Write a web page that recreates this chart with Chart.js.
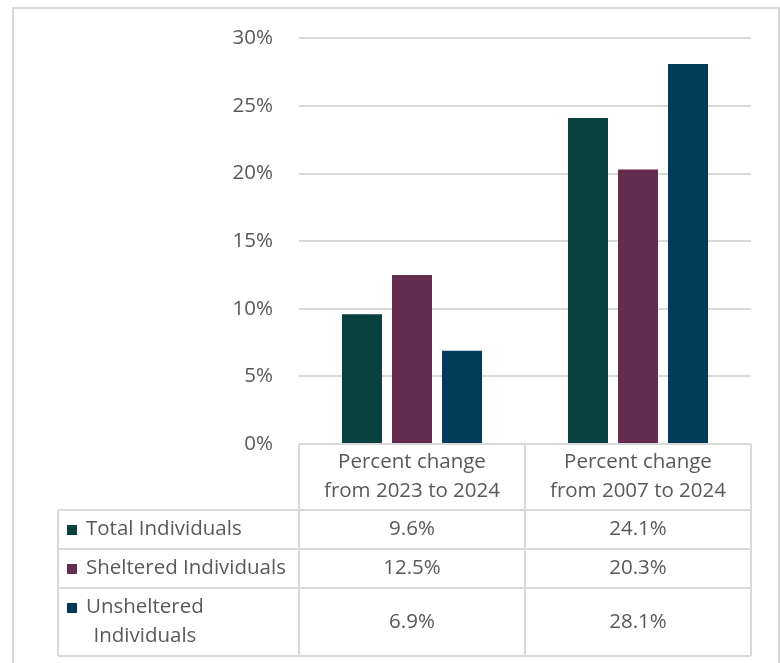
<!DOCTYPE html>
<html lang="en">
<head>
  <meta charset="UTF-8">
  <title>Percent change in homelessness</title>
  <script src="https://cdn.jsdelivr.net/npm/chart.js"></script>
  <style>
    body {
      margin: 0;
      padding: 0;
      background: #fff;
      overflow: hidden;
    }
    .frame {
      position: absolute;
      left: 12px;
      top: 7px;
      width: 768px;
      height: 700px;
      box-sizing: border-box;
      border: 2px solid #d9d9d9;
    }
    .chart-container {
      position: absolute;
      left: 0;
      top: 0;
      width: 780px;
      height: 663px;
    }
  </style>
</head>
<body>
  <div class="frame"></div>
  <div class="chart-container">
    <canvas id="changeChart"></canvas>
  </div>

  <script>
    // data
    const categories = [
      ['Percent change', 'from 2023 to 2024'],
      ['Percent change', 'from 2007 to 2024']
    ];
    const seriesNames = ['Total Individuals', 'Sheltered Individuals', 'Unsheltered Individuals'];
    const totalValues = [9.6, 24.1];
    const shelteredValues = [12.5, 20.3];
    const unshelteredValues = [6.9, 28.1];
    const yTicks = [0, 5, 10, 15, 20, 25, 30];

    const colors = ['#07403c', '#642d4e', '#023c5a'];
    const textColor = '#595959';
    const lineColor = '#d9d9d9';
    const fontFamily = '"Open Sans", Lato, sans-serif';
    const fontSize = 20.5;

    const fmt = (v) => v.toFixed(1) + '%';

    // wrap a label into lines that fit maxW
    function wrapText(ctx, text, maxW) {
      const words = text.split(' ');
      const lines = [];
      let cur = '';
      words.forEach(w => {
        const test = cur ? cur + ' ' + w : w;
        if (cur && ctx.measureText(test).width > maxW) {
          lines.push(cur);
          cur = w;
        } else {
          cur = test;
        }
      });
      if (cur) lines.push(cur);
      return lines;
    }

    // Excel style data table under the plot
    const dataTablePlugin = {
      id: 'dataTable',
      afterDraw(chart) {
        const ctx = chart.ctx;
        const area = chart.chartArea;
        const xs = chart.scales.x;
        const n = categories.length;
        const colW = (xs.right - xs.left) / n;
        const tableLeft = 58;
        const lineH = 29;
        const pad = 9;
        const keySize = 10;
        const keyX = 67;
        const textX = 86;

        ctx.save();
        ctx.font = fontSize + 'px ' + fontFamily;
        ctx.fillStyle = textColor;
        ctx.textBaseline = 'middle';
        ctx.strokeStyle = lineColor;
        ctx.lineWidth = 2;

        const datasets = chart.data.datasets;
        const rowLines = datasets.map(ds => wrapText(ctx, ds.label, area.left - textX - 3));
        const headerH = 2 * lineH + pad - 1;
        const rowHs = rowLines.map(l => l.length * lineH + pad + 1);

        // header row
        let y = area.bottom;
        ctx.textAlign = 'center';
        categories.forEach((lab, i) => {
          const cx = xs.left + colW * (i + 0.5);
          lab.forEach((t, k) => {
            ctx.fillText(t, cx, y + headerH / 2 + (k - (lab.length - 1) / 2) * lineH);
          });
        });
        const rowTops = [];
        let yy = y + headerH;
        rowHs.forEach(h => { rowTops.push(yy); yy += h; });
        const tableBottom = yy;

        // body rows
        datasets.forEach((ds, r) => {
          const top = rowTops[r];
          const cy = top + rowHs[r] / 2;
          const lines = rowLines[r];
          const firstY = cy - (lines.length - 1) / 2 * lineH;
          ctx.fillStyle = ds.backgroundColor;
          ctx.fillRect(keyX, Math.round(firstY - keySize / 2), keySize, keySize);
          ctx.fillStyle = textColor;
          const firstW = ctx.measureText(lines[0]).width;
          const mid = textX + firstW / 2;
          lines.forEach((t, k) => {
            if (k === 0) {
              ctx.textAlign = 'left';
              ctx.fillText(t, textX, firstY);
            } else {
              ctx.textAlign = 'center';
              ctx.fillText(t, mid, firstY + k * lineH);
            }
          });
          ctx.textAlign = 'center';
          ds.data.forEach((v, i) => {
            ctx.fillText(fmt(v), xs.left + colW * (i + 0.5), cy);
          });
        });

        // grid lines of the table
        ctx.beginPath();
        ctx.moveTo(xs.left, area.bottom);
        ctx.lineTo(xs.right, area.bottom);
        for (let i = 0; i <= n; i++) {
          const x = xs.left + colW * i;
          ctx.moveTo(x, area.bottom);
          ctx.lineTo(x, tableBottom);
        }
        ctx.moveTo(tableLeft, rowTops[0]);
        ctx.lineTo(tableLeft, tableBottom);
        rowTops.concat([tableBottom]).forEach(t => {
          ctx.moveTo(tableLeft, t);
          ctx.lineTo(xs.right, t);
        });
        ctx.stroke();
        ctx.restore();
      }
    };

    const ctx = document.getElementById('changeChart').getContext('2d');

    new Chart(ctx, {
      type: 'bar',
      data: {
        labels: categories,
        datasets: [
          { label: seriesNames[0], data: totalValues, backgroundColor: colors[0] },
          { label: seriesNames[1], data: shelteredValues, backgroundColor: colors[1] },
          { label: seriesNames[2], data: unshelteredValues, backgroundColor: colors[2] }
        ]
      },
      options: {
        responsive: true,
        maintainAspectRatio: false,
        animation: false,
        layout: {
          padding: { left: 0, right: 29, top: 38, bottom: 219 }
        },
        datasets: {
          bar: {
            categoryPercentage: 0.664,
            barPercentage: 0.8,
            borderWidth: 0
          }
        },
        scales: {
          x: {
            display: false
          },
          y: {
            min: 0,
            max: 30,
            afterFit(scale) { scale.width = 299; },
            afterBuildTicks(scale) {
              scale.ticks = yTicks.map(v => ({ value: v }));
            },
            border: { display: false },
            grid: {
              color: lineColor,
              lineWidth: 2,
              drawTicks: false
            },
            ticks: {
              padding: 26,
              color: textColor,
              font: { family: fontFamily, size: fontSize },
              callback: (v) => v + '%'
            }
          }
        },
        plugins: {
          legend: { display: false },
          tooltip: { enabled: false }
        }
      },
      plugins: [dataTablePlugin]
    });
  </script>
</body>
</html>
